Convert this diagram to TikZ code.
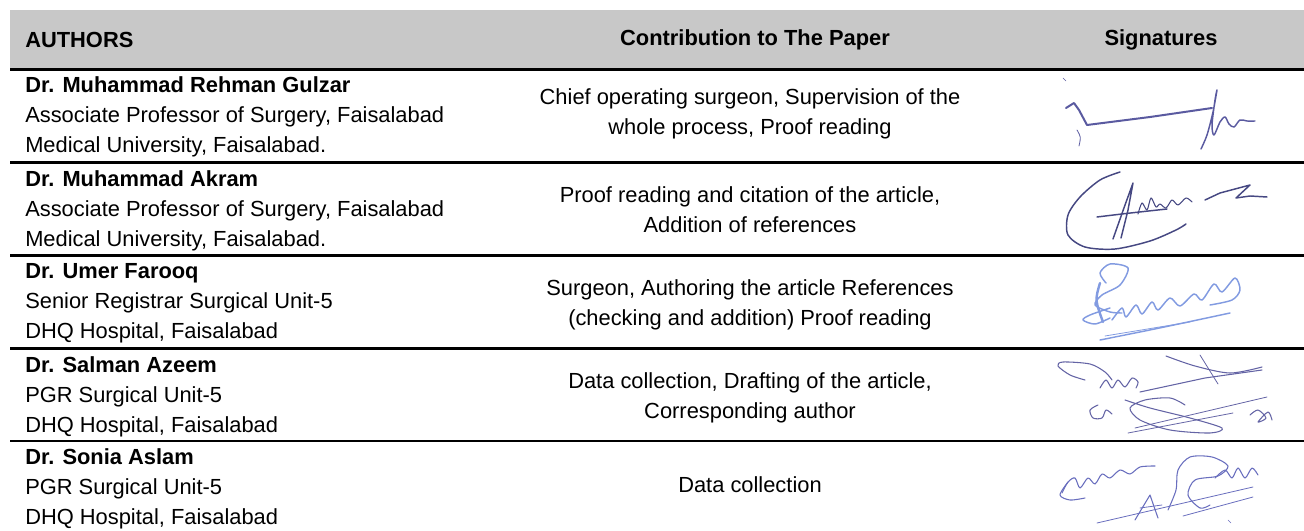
\documentclass[tikz,border=0pt]{standalone}
\usepackage{fontspec}
\setmainfont{Liberation Sans}
\usepackage{xcolor}
\usepackage{tikz}
\definecolor{hdrgray}{RGB}{200,200,200}
\definecolor{inkA}{RGB}{90,90,160}
\definecolor{inkB}{RGB}{70,72,130}
\definecolor{inkC}{RGB}{130,155,225}
\definecolor{inkD}{RGB}{100,100,165}
\definecolor{inkE}{RGB}{105,110,190}
\tikzset{
  celltext/.style={inner sep=0pt,font=\fontsize{16.4}{22.5}\selectfont},
  rowrule/.style={line width=2pt},
  ink/.style={line width=1.1pt,line cap=round,line join=round}
}

\begin{document}
\begin{tikzpicture}[x=0.75pt,y=0.75pt,yscale=-1,xscale=1]
        \useasboundingbox (0,0) rectangle (1304,531);
        % header
        \fill[hdrgray] (10,10) rectangle (1304,69.5);
        \draw (25,40) node [anchor=west][celltext] (hAuth) {\textbf{AUTHORS}};
        \draw (755,40) node [celltext] (hContr) {\textbf{Contribution to The Paper}};
        \draw (1161,40) node [celltext] (hSig) {\textbf{Signatures}};
        % rules
        \draw[rowrule] (10,69.5) -- (1304,69.5);
        \draw[rowrule] (10,162.5) -- (1304,162.5);
        \draw[rowrule] (10,255.5) -- (1304,255.5);
        \draw[rowrule] (10,348.5) -- (1304,348.5);
        \draw[rowrule] (10,441) -- (1304,441);
        % authors
        \draw (25,76) node [anchor=north west][celltext][align=left] (a1) {\textbf{Dr. Muhammad Rehman Gulzar}\\Associate Professor of Surgery, Faisalabad\\Medical University, Faisalabad.};
        \draw (25,170) node [anchor=north west][celltext][align=left] (a2) {\textbf{Dr. Muhammad Akram}\\Associate Professor of Surgery, Faisalabad\\Medical University, Faisalabad.};
        \draw (25,263) node [anchor=north west][celltext][align=left] (a3) {\textbf{Dr. Umer Farooq}\\Senior Registrar Surgical Unit-5\\DHQ Hospital, Faisalabad};
        \draw (25,356) node [anchor=north west][celltext][align=left] (a4) {\textbf{Dr. Salman Azeem}\\PGR Surgical Unit-5\\DHQ Hospital, Faisalabad};
        \draw (25,448.5) node [anchor=north west][celltext][align=left] (a5) {\textbf{Dr. Sonia Aslam}\\PGR Surgical Unit-5\\DHQ Hospital, Faisalabad};
        % contributions
        \draw (750,88) node [anchor=north][celltext][align=center] (c1) {Chief operating surgeon, Supervision of the\\whole process, Proof reading};
        \draw (750,186) node [anchor=north][celltext][align=center] (c2) {Proof reading and citation of the article,\\Addition of references};
        \draw (750,279) node [anchor=north][celltext][align=center] (c3) {Surgeon, Authoring the article References\\(checking and addition) Proof reading};
        \draw (750,372) node [anchor=north][celltext][align=center] (c4) {Data collection, Drafting of the article,\\Corresponding author};
        \draw (750,476) node [anchor=north][celltext][align=center] (c5) {Data collection};
        % signature 1
        \draw[ink,inkA,line width=0.5pt] (1063,78) -- (1066,81);
        \draw[ink,inkA,line width=1.5pt] (1066,108) -- (1074,103) -- (1079,110) -- (1087,125) -- (1150,117) -- (1212,108);
        \draw[ink,inkA,line width=0.6pt] (1077,130) .. controls (1081,137) .. (1079,146);
        \draw[ink,inkA] plot[smooth] coordinates {(1201,149) (1207,135) (1213,112) (1217,90) (1215,100) (1212,125) (1214,135) (1220,122) (1225,117) (1229,124) (1234,127) (1240,120) (1247,121) (1255,121)};
        % signature 2
        \draw[ink,inkB] plot[smooth] coordinates {(1120,172) (1100,180) (1080,197) (1068,215) (1068,235) (1085,247) (1115,249) (1150,241) (1176,230) (1186,224)};
        \draw[ink,inkB] (1113,239) -- (1125,205) -- (1133,183) -- (1128,210) -- (1121,238);
        \draw[ink,inkB] (1097,217) .. controls (1130,213) .. (1167,209);
        \draw[ink,inkB,line width=0.8pt] plot[smooth] coordinates {(1138,214) (1142,203) (1147,210) (1151,198) (1156,207) (1160,204) (1166,208) (1172,200) (1178,205) (1186,198) (1192,202)};
        \draw[ink,inkB] (1205,200) -- (1220,193) -- (1250,185) -- (1236,198) -- (1250,196) -- (1267,197);
        % signature 3
        \draw[ink,inkC] plot[smooth] coordinates {(1106,283) (1100,273) (1110,264) (1128,268) (1120,285) (1102,295) (1095,305) (1110,312) (1122,313)};
        \draw[ink,inkC,line width=1.8pt] (1100,283) .. controls (1095,300) .. (1103,322);
        \draw[ink,inkC] plot[smooth] coordinates {(1110,308) (1090,315) (1083,320) (1095,324) (1110,318)};
        \draw[ink,inkC] plot[smooth] coordinates {(1112,320) (1122,308) (1126,317) (1136,305) (1142,314) (1152,302) (1158,310) (1170,298) (1180,306) (1194,294) (1202,300) (1214,284) (1222,292) (1235,278) (1240,290) (1232,300) (1210,305)};
        \draw[ink,inkC] (1100,340) .. controls (1160,328) .. (1230,313);
        \draw[ink,inkC,line width=0.6pt] (1105,336) -- (1190,322);
        % signature 4
        \draw[ink,inkD,line width=0.8pt] plot[smooth] coordinates {(1085,380) (1070,375) (1058,366) (1063,362) (1090,364) (1105,372) (1112,380)};
        \draw[ink,inkD,line width=0.8pt] plot[smooth] coordinates {(1100,388) (1106,380) (1112,388) (1118,380) (1125,387) (1132,378) (1138,382) (1136,388)};
        \draw[ink,inkD,line width=0.8pt] plot[smooth] coordinates {(1166,356) (1195,366) (1230,373) (1262,367)};
        \draw[ink,inkD,line width=0.6pt] (1200,355) -- (1218,384);
        \draw[ink,inkD,line width=0.8pt] (1140,392) -- (1205,378) -- (1262,370);
        \draw[ink,inkD,line width=0.8pt] plot[smooth] coordinates {(1098,405) (1090,410) (1093,418) (1102,418) (1106,410) (1112,414)};
        \draw[ink,inkD,line width=0.8pt] plot[smooth] coordinates {(1125,400) (1150,408) (1190,418) (1222,428) (1210,433) (1170,430) (1140,420) (1130,408) (1145,400) (1170,398) (1185,405)};
        \draw[ink,inkD,line width=0.6pt] (1128,433) -- (1233,413);
        \draw[ink,inkD,line width=0.6pt] (1135,428) -- (1267,397);
        \draw[ink,inkD,line width=0.8pt] plot[smooth] coordinates {(1250,415) (1258,410) (1266,418) (1258,422) (1268,412) (1272,420)};
        % signature 5
        \draw[ink,inkE,line width=0.8pt] plot[smooth] coordinates {(1062,493) (1068,482) (1075,478) (1080,488) (1088,478) (1095,484) (1102,474) (1110,478) (1120,470) (1130,474) (1140,467) (1155,466)};
        \draw[ink,inkE,line width=0.8pt] plot[smooth] coordinates {(1068,482) (1060,495) (1070,500) (1085,498)};
        \draw[ink,inkE,line width=0.8pt] plot[smooth] coordinates {(1168,510) (1176,490) (1178,470) (1190,457) (1212,457) (1228,466) (1218,476) (1195,480) (1188,495) (1200,508) (1210,505)};
        \draw[ink,inkE,line width=0.8pt] plot[smooth] coordinates {(1215,478) (1225,470) (1232,478) (1238,468) (1245,478) (1252,468) (1258,475)};
        \draw[ink,inkE,line width=0.6pt] (1097,523) -- (1253,487);
        \draw[ink,inkE,line width=0.6pt] (1183,516) -- (1253,497);
        \draw[ink,inkE,line width=0.8pt] (1135,520) -- (1150,495) -- (1158,518);
        \draw[ink,inkE,line width=0.6pt] (1140,508) -- (1162,505);
        \draw[ink,inkE,line width=0.5pt] (1228,520) -- (1231,523);
    \end{tikzpicture}
\end{document}
